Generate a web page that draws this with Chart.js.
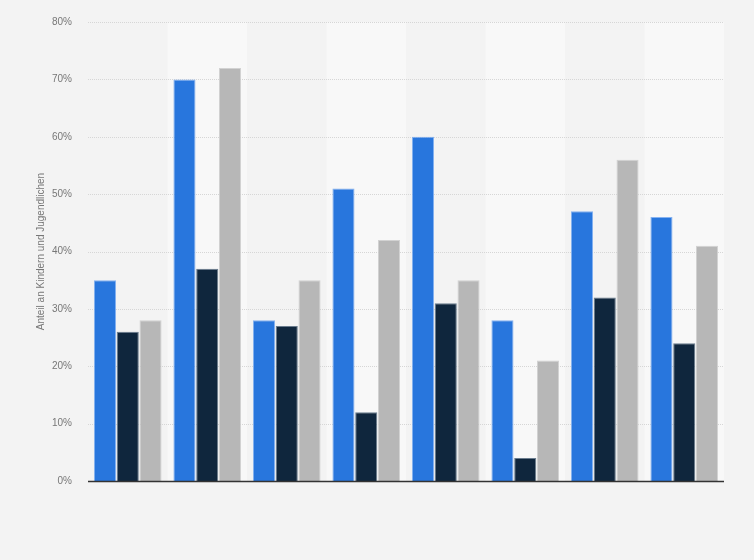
<!DOCTYPE html>
<html>
<head>
<meta charset="utf-8">
<script src="https://cdn.jsdelivr.net/npm/chart.js@4/dist/chart.umd.min.js"></script>
<style>
html,body{margin:0;padding:0;background:#f3f3f3;}
#wrap{width:754px;height:560px;}
</style>
</head>
<body>
<div id="wrap"><canvas id="c" width="754" height="560"></canvas></div>
<script>
const categories = ["1","2","3","4","5","6","7","8"];
const seriesA = [35, 70, 28, 51, 60, 28, 47, 46];
const seriesB = [26, 37, 27, 12, 31, 4, 32, 24];
const seriesC = [28, 72, 35, 42, 35, 21, 56, 41];
const yTicks = [0, 10, 20, 30, 40, 50, 60, 70, 80];
const yTitle = "Anteil an Kindern und Jugendlichen";

const bandPlugin = {
  id: 'bands',
  beforeDatasetsDraw(chart) {
    const {ctx, chartArea, scales} = chart;
    const x = scales.x;
    const n = categories.length;
    const w = (chartArea.right - chartArea.left) / n;
    ctx.save();
    for (let i = 0; i < n; i++) {
      if (i % 2 === 1) {
        const cx = x.getPixelForValue(i);
        ctx.fillStyle = '#f8f8f8';
        ctx.fillRect(cx - w / 2, chartArea.top, w, chartArea.bottom - chartArea.top);
      }
    }
    ctx.restore();
  }
};
const gridPlugin = {
  id: 'dotgrid',
  beforeDatasetsDraw(chart) {
    const {ctx, chartArea, scales} = chart;
    const y = scales.y;
    ctx.save();
    ctx.strokeStyle = '#d6d6d6';
    ctx.lineWidth = 1;
    ctx.setLineDash([1, 1]);
    yTicks.forEach(v => {
      if (v === 0) return;
      const py = Math.round(y.getPixelForValue(v)) + 0.5;
      ctx.beginPath();
      ctx.moveTo(chartArea.left, py);
      ctx.lineTo(chartArea.right, py);
      ctx.stroke();
    });
    ctx.restore();
  },
  afterDatasetsDraw(chart) {
    const {ctx, chartArea, scales} = chart;
    const py = scales.y.getPixelForValue(0);
    ctx.save();
    ctx.strokeStyle = '#333';
    ctx.lineWidth = 1.5;
    ctx.beginPath();
    ctx.moveTo(chartArea.left, py + 0.5);
    ctx.lineTo(chartArea.right, py + 0.5);
    ctx.stroke();
    ctx.restore();
  }
};

new Chart(document.getElementById('c'), {
  type: 'bar',
  data: {
    labels: categories,
    datasets: [
      {data: seriesA, backgroundColor: '#2876dd', borderColor: 'rgba(120,170,240,0.9)', borderWidth: 1, borderSkipped: 'bottom'},
      {data: seriesB, backgroundColor: '#0f263d', borderColor: 'rgba(90,110,130,0.9)', borderWidth: 1, borderSkipped: 'bottom'},
      {data: seriesC, backgroundColor: '#b7b7b7', borderColor: 'rgba(205,205,205,0.9)', borderWidth: 1, borderSkipped: 'bottom'}
    ]
  },
  options: {
    responsive: false,
    animation: false,
    devicePixelRatio: 1,
    layout: {padding: {left: 0, right: 30, top: 17, bottom: 79}},
    plugins: {legend: {display: false}, tooltip: {enabled: false}},
    datasets: {bar: {categoryPercentage: 0.86, barPercentage: 0.97}},
    scales: {
      x: {
        grid: {display: false, drawTicks: false},
        border: {display: false},
        ticks: {display: false}
      },
      y: {
        min: 0, max: 80,
        afterFit(scale) { scale.width = 88; },
        afterBuildTicks(scale) { scale.ticks = yTicks.map(v => ({value: v})); },
        grid: {display: false, drawTicks: false},
        border: {display: false},
        ticks: {
          padding: 16,
          color: '#777',
          font: {family: 'Liberation Sans, Arial, sans-serif', size: 10},
          callback: v => v + '%'
        },
        title: {
          display: true,
          text: yTitle,
          color: '#777',
          font: {family: 'Liberation Sans, Arial, sans-serif', size: 10},
          padding: {top: 35, bottom: 0}
        }
      }
    }
  },
  plugins: [bandPlugin, gridPlugin]
});
</script>
</body>
</html>
